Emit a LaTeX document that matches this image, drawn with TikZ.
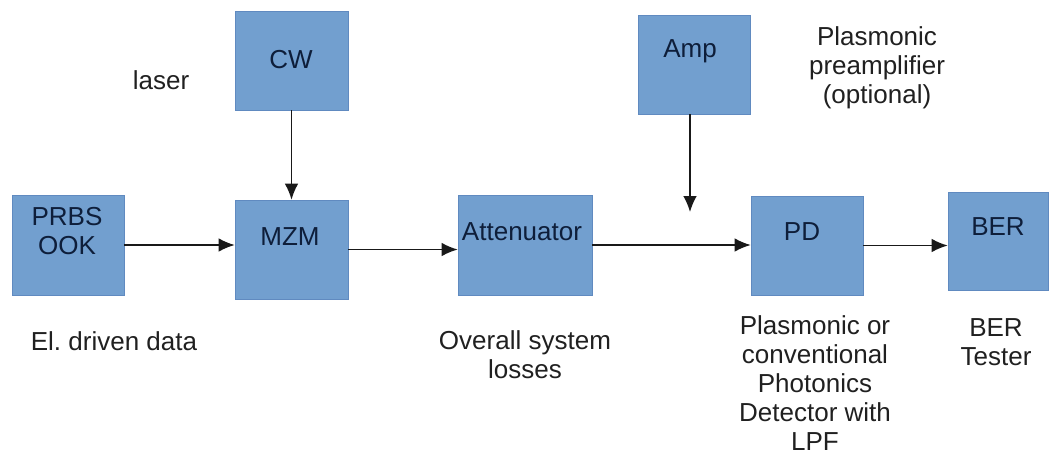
\documentclass[tikz,border=0pt]{standalone}
\usepackage{fontspec}
\setmainfont{Liberation Sans}
\usetikzlibrary{arrows.meta}
\definecolor{blockfill}{RGB}{114,159,207}
\definecolor{blockline}{RGB}{96,138,192}
\definecolor{blockink}{RGB}{14,30,58}
\definecolor{noteink}{RGB}{32,32,32}
\tikzset{
block/.style={
	  draw=blockline, fill=blockfill, line width=0.5pt, inner sep=0pt,
	    minimum width=2.8cm, minimum height=2.5cm},
blocktext/.style={text=blockink, align=center, inner sep=0pt,
	font=\fontsize{18.5}{20.6}\selectfont},
note/.style={text=noteink, align=center, inner sep=0pt,
	font=\fontsize{18.5}{20.6}\selectfont},
link/.style={draw=black!90, line width=1pt,
	-{Latex[length=0.4cm, width=0.34cm]}}
}
\begin{document}
\begin{tikzpicture}[x=0.025cm, y=-0.025cm]
	\useasboundingbox (0,0) rectangle (1053,455);
	\node[block] (prbs) at (68,245) {};
	\node[block, minimum width=2.825cm, minimum height=2.475cm] (cw) at (291.5,60.5) {};
	\node[block, minimum width=2.825cm, minimum height=2.475cm] (mzm) at (291.5,249.5) {};
	\node[block, minimum width=3.35cm] (att) at (525,245) {};
	\node[block, minimum height=2.475cm] (amp) at (694,64.5) {};
	\node[block, minimum height=2.475cm] (pd) at (807,245.5) {};
	\node[block, minimum width=2.5cm, minimum height=2.45cm] (ber) at (998,241) {};
	\node[blocktext] (prbs-t) at (67,231) {PRBS\\OOK};
	\node[blocktext] (cw-t) at (291,60) {CW};
	\node[blocktext] (mzm-t) at (290,237) {MZM};
	\node[blocktext] (att-t) at (522,232) {Attenuator};
	\node[blocktext] (amp-t) at (690,51) {Amp};
	\node[blocktext] (pd-t) at (802,232) {PD};
	\node[blocktext] (ber-t) at (998,227) {BER};
	\node[note] (laser) at (161,80) {laser};
	\node[note] (preamp) at (877,68) {Plasmonic\\preamplifier\\(optional)};
	\node[note] (data) at (114,341) {El.\ driven data};
	\node[note] (losses) at (525,355) {Overall system\\losses};
	\node[note] (det) at (815,383) {Plasmonic or\\conventional\\Photonics\\Detector with\\LPF};
	\node[note] (tester) at (996,342) {BER\\Tester};
	\coordinate (tap) at (690,212);
	\draw[link] (prbs.east) -- (prbs.east -| mzm.west);
	\draw[link] (cw) -- (mzm);
	\draw[link] (mzm.east) -- (mzm.east -| att.west);
	\draw[link] (att.east) -- (att.east -| pd.west);
	\draw[link] (amp.south -| tap) -- (tap);
	\draw[link] (pd.east) -- (pd.east -| ber.west);
\end{tikzpicture}
\end{document}
